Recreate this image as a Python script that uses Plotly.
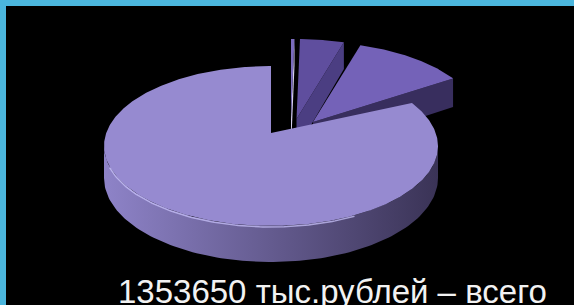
import numpy as np
import plotly.graph_objects as go

# ---- data (тыс. рублей) ----
categories = ["Статья 1", "Статья 2", "Статья 3", "Статья 4"]
values = [4500, 57500, 152300, 1139350]
total_label = "1353650 тыс.рублей – всего"

# ---- styling / layout params ----
W, H = 574, 305
CX, CY = 271, 146          # centre of main ellipse (px on axes)
RX, RY = 167, 80           # ellipse radii
D0, DK = 32, 4             # depth and its perspective change
explode = [(20, -27), (25.5, -27), (42, -24), (0, 0)]   # slice offsets
apex_shift = [0, 0, 0, -13]                              # perspective apex lift
top_colors = ["#7a6bbd", "#5f4e9e", "#7462b8", "#968ad0"]
cut_colors = ["#d6d0ee", "#4b3e82", "#382e5e", "#5c5190"]
side_colors = [("#7a6bbd", "#3b3456"), ("#5f4e9e", "#2e2650"),
               ("#7462b8", "#352b58"), ("#8e83c8", "#3a3356")]
BORDER = "#4bb6dd"

vals = np.array(values, dtype=float)
frac = vals / vals.sum()
edges = np.concatenate([[0], np.cumsum(frac)]) * 360.0


def pt(cx, cy, th):
    r = np.radians(th)
    return cx + RX * np.sin(r), cy - RY * np.cos(r)


def depth(y):
    return D0 + DK * (np.asarray(y) - CY) / RY


fig = go.Figure()


def add_poly(xs, ys, color, grad=None):
    kw = dict(x=list(xs) + [xs[0]], y=list(ys) + [ys[0]], mode="lines",
              fill="toself", line=dict(width=0, color=color),
              hoverinfo="skip", showlegend=False)
    if grad is not None:
        kw["fillgradient"] = dict(type="horizontal",
                                  colorscale=[[0, grad[0]], [1, grad[1]]])
    else:
        kw["fillcolor"] = color
    fig.add_trace(go.Scatter(**kw))


for i in range(len(values)):
    t0, t1 = edges[i], edges[i + 1]
    cx, cy = CX + explode[i][0], CY + explode[i][1]
    ay = cy + apex_shift[i]
    # outer side wall (front-facing part)
    a, b = max(t0, 90), min(t1, 270)
    if b > a:
        th = np.linspace(a, b, 120)
        xs, ys = pt(cx, cy, th)
        yb = ys + depth(ys)
        add_poly(np.concatenate([xs, xs[::-1]]), np.concatenate([ys, yb[::-1]]),
                 top_colors[i], grad=side_colors[i])
    # cut faces
    for th_e, vis in ((t1, 0 < t1 % 360 < 180), (t0, 180 < t0 < 360)):
        if vis:
            ox, oy = pt(cx, cy, th_e)
            dc, do = depth(ay), depth(oy)
            add_poly([cx, ox, ox, cx], [ay, oy, oy + do, ay + dc], cut_colors[i])
    # top face
    th = np.linspace(t0, t1, max(8, int((t1 - t0) * 2)))
    xs, ys = pt(cx, cy, th)
    add_poly(np.concatenate([[cx], xs]), np.concatenate([[ay], ys]), top_colors[i])

# rim highlight on big slice
th = np.linspace(255, 150, 100)
hx, hy = pt(CX + explode[3][0], CY + explode[3][1], th)
fig.add_trace(go.Scatter(x=hx, y=hy + 1, mode="lines",
                         line=dict(color="rgba(200,194,250,0.75)", width=1.5),
                         hoverinfo="skip", showlegend=False))

fig.add_annotation(x=332.5, y=291, xref="x", yref="y", text=total_label,
                   showarrow=False, xanchor="center", yanchor="middle",
                   font=dict(family="Liberation Sans, Arial", size=33, color="#f2f2f2"))

fig.update_layout(
    width=W, height=H, margin=dict(l=0, r=0, t=0, b=0),
    paper_bgcolor="#000000", plot_bgcolor="#000000",
    xaxis=dict(range=[0, W], visible=False, fixedrange=True),
    yaxis=dict(range=[H, 0], visible=False, fixedrange=True),
    shapes=[
        dict(type="rect", xref="paper", yref="paper", x0=0, x1=1,
             y0=1 - 6 / H, y1=1, fillcolor=BORDER, line=dict(width=0), layer="below"),
        dict(type="rect", xref="paper", yref="paper", x0=0, x1=6 / W,
             y0=0, y1=1, fillcolor=BORDER, line=dict(width=0), layer="below"),
    ],
)

fig.write_html("out.html", config={"responsive": False, "displayModeBar": False},
               post_script="document.body.style.margin='0';"
                           "document.body.style.padding='0';"
                           "document.body.style.background='#000';"
                           "document.body.style.overflow='hidden';")
